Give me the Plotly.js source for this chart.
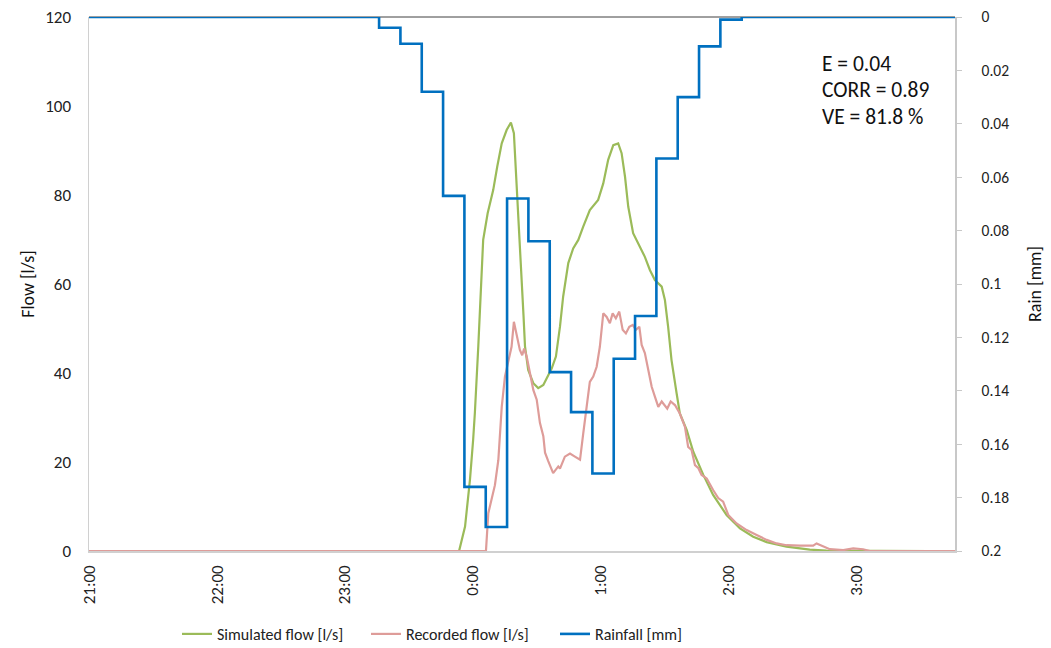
<!DOCTYPE html>
<html>
<head>
<meta charset="utf-8">
<script src="https://cdn.plot.ly/plotly-3.0.1.min.js"></script>
<style>html,body{margin:0;padding:0;background:#fff;}#chart{width:1051px;height:648px;}</style>
</head>
<body>
<div id="chart"></div>
<script>
// ---- data (times are clock times; the event runs from 21:00 to 3:46 the next day) ----
const axisStart = "21:00:00";
const axisEnd = "3:46:00";

const simTimes = ["21:00:00","23:53:30","23:56:18","23:58:36","0:00:06","0:00:54","0:02:30","0:03:18","0:04:06","0:04:48","0:06:54","0:09:30","0:11:24","0:13:30","0:15:48","0:17:48","0:19:12","0:20:30","0:22:00","0:23:00","0:23:42","0:24:24","0:25:54","0:28:18","0:30:36","0:33:00","0:35:18","0:36:54","0:38:54","0:40:48","0:42:18","0:44:42","0:47:00","0:49:24","0:51:42","0:54:48","0:58:42","1:01:06","1:03:24","1:05:48","1:08:06","1:09:42","1:11:18","1:12:48","1:15:06","1:18:18","1:20:36","1:23:00","1:25:18","1:28:30","1:30:00","1:31:30","1:33:06","1:35:30","1:37:00","1:40:12","1:43:18","1:48:00","1:52:36","1:58:54","2:05:12","2:11:24","2:17:42","2:27:00","2:37:54","2:45:48","3:06:06","3:34:12"];
const simFlow = [0,0,5.5,16,25,31,45.9,53.5,61,69.9,75.9,81.1,86.4,91.6,94.6,96.3,93.9,82.7,69.9,60,53,46,40.7,37.7,36.6,37.3,39.6,41,43.7,50.4,57.2,64.7,68,69.9,72.9,76.6,78.9,82.6,87.9,91.2,91.6,89.4,84.1,77.4,71.4,68.4,66.1,63.1,60.9,59.4,56.4,50.4,42.9,35.4,30.9,27.2,22.3,17.1,12.6,8.1,5.1,3.2,2.0,1.0,0.3,0.1,0,0];

const recTimes = ["21:00:00","0:06:06","0:07:12","0:08:48","0:10:18","0:11:54","0:13:30","0:15:00","0:16:30","0:18:06","0:19:12","0:20:30","0:22:00","0:23:06","0:24:00","0:25:12","0:26:42","0:28:18","0:29:54","0:31:24","0:33:00","0:33:48","0:35:18","0:37:36","0:40:00","0:40:48","0:43:06","0:45:30","0:47:48","0:50:12","0:51:42","0:53:18","0:54:00","0:54:48","0:56:24","0:58:00","0:59:30","1:01:06","1:02:42","1:04:12","1:05:30","1:07:00","1:08:36","1:10:12","1:11:42","1:13:18","1:14:54","1:16:24","1:18:00","1:19:06","1:20:36","1:21:42","1:23:48","1:25:18","1:26:54","1:28:30","1:30:00","1:31:06","1:32:42","1:34:42","1:37:00","1:39:24","1:40:54","1:42:30","1:44:06","1:45:42","1:47:12","1:49:36","1:52:36","1:55:00","1:57:18","1:59:42","2:03:36","2:08:18","2:13:00","2:17:42","2:22:24","2:27:00","2:33:18","2:39:30","2:41:06","2:44:12","2:47:18","2:53:36","2:58:18","3:02:54","3:06:06","3:46:00"];
const recFlow = [0,0,8.5,11.5,14.8,20.4,32.4,39.2,42.2,45.9,51.5,48.9,45.2,44,45.5,43.7,40,36.2,34,28.8,25.8,22.1,20.2,17.5,19,18.5,21.2,21.9,21.2,20.5,26.4,32.4,35.5,38,39.2,41.4,45.9,53.4,52.6,51.2,53.4,52.3,53.8,49.7,48.9,50.4,50.8,49.7,50.4,46.3,44.5,41.8,36.9,34.7,32.4,33.6,32.8,32.0,33.6,32.8,30.9,27.9,23.4,22.7,19.3,18.6,17.1,16.3,13.7,11.9,11.1,8.1,6.2,4.7,3.6,2.5,1.7,1.3,1.2,1.2,1.7,1.1,0.4,0.2,0.6,0.4,0,0];

// rainfall: each value holds from its time until the next time
const rainTimes = ["21:00:00","23:16:00","23:26:00","23:36:00","23:46:00","23:56:00","0:06:00","0:16:00","0:26:00","0:36:00","0:46:00","0:56:00","1:06:00","1:16:00","1:26:00","1:36:00","1:46:00","1:56:00","2:06:00","3:46:00"];
const rainMm = [0,0.004,0.010,0.028,0.067,0.176,0.191,0.068,0.084,0.133,0.148,0.171,0.128,0.112,0.053,0.030,0.011,0.001,0,0];

const statLines = ["E = 0.04","CORR = 0.89","VE = 81.8 %"];

// ---- helpers ----
function toDate(t){
  const p = t.split(":");
  const h = parseInt(p[0],10);
  const day = h >= 12 ? "2000-01-01" : "2000-01-02";
  const hh = String(h).padStart(2,"0");
  return day + " " + hh + ":" + p[1] + ":" + (p[2] || "00");
}

const FONT = "Carlito, Calibri, Lato, 'Noto Sans', sans-serif";
const TXT = "#222222";

const traces = [
  {x: simTimes.map(toDate), y: simFlow, type: "scatter", mode: "lines", name: "Simulated flow [l/s]",
   line: {color: "#9BBB59", width: 2.2}, yaxis: "y", hoverinfo: "x+y"},
  {x: recTimes.map(toDate), y: recFlow, type: "scatter", mode: "lines", name: "Recorded flow [l/s]",
   line: {color: "#DE9C99", width: 2.2}, yaxis: "y", hoverinfo: "x+y"},
  {x: rainTimes.map(toDate), y: rainMm, type: "scatter", mode: "lines", name: "Rainfall [mm]",
   line: {color: "#0070C0", width: 2.6, shape: "hv"}, yaxis: "y2", hoverinfo: "x+y"}
];

const annY = [63.5, 90, 116.5];
const annotations = statLines.map((s, i) => ({
  text: s, xref: "paper", yref: "paper", x: (820 - 89) / 866, y: 1 - (annY[i] - 17) / 534,
  xanchor: "left", yanchor: "middle", showarrow: false,
  font: {family: FONT, size: 21.5, color: "#111"}
}));

const layout = {
  width: 1051, height: 648,
  margin: {l: 89, r: 96, t: 17, b: 97, pad: 0, autoexpand: false},
  paper_bgcolor: "#fff", plot_bgcolor: "#fff",
  font: {family: FONT, size: 15, color: TXT},
  showlegend: true,
  legend: {orientation: "h", xref: "paper", x: (177 - 89) / 866, xanchor: "left",
           yref: "container", y: 1 - 634 / 648, yanchor: "middle", entrywidth: 144,
           font: {family: FONT, size: 16, color: TXT}, bgcolor: "rgba(0,0,0,0)", tracegroupgap: 0},
  xaxis: {
    type: "date", range: [toDate(axisStart), toDate(axisEnd)], automargin: false,
    tick0: toDate(axisStart), dtick: 3600000, tickformat: "%-H:%M", tickangle: -90,
    showgrid: false, zeroline: false, showline: true, linecolor: "#d0d0d0", linewidth: 1.5,
    ticks: "", ticklabelstandoff: 6, tickfont: {family: FONT, size: 17, color: TXT}
  },
  yaxis: {
    range: [0, 120], dtick: 20, showgrid: false, zeroline: false, automargin: false,
    showline: true, linecolor: "#d0d0d0", linewidth: 1.5, ticks: "", ticklabelstandoff: 13,
    tickfont: {family: FONT, size: 17, color: TXT},
    title: {text: "Flow [l/s]", font: {family: FONT, size: 18, color: "#111"}, standoff: 6}
  },
  yaxis2: {
    overlaying: "y", side: "right", range: [0.2, 0], dtick: 0.02, automargin: false,
    showgrid: false, zeroline: false, showline: true, linecolor: "#c8c8c8", linewidth: 1.5,
    ticks: "outside", ticklen: 5, tickcolor: "#c8c8c8", tickwidth: 1, ticklabelstandoff: 17,
    tickfont: {family: FONT, size: 15.5, color: TXT},
    title: {text: "Rain [mm]", font: {family: FONT, size: 18, color: "#111"}, standoff: 20}
  },
  shapes: [{type: "line", xref: "paper", yref: "paper", x0: 0, x1: 1, y0: 1, y1: 1,
            line: {color: "#404040", width: 1}, layer: "below"}],
  annotations: annotations
};

Plotly.newPlot("chart", traces, layout, {displayModeBar: false, staticPlot: true});
</script>
</body>
</html>
